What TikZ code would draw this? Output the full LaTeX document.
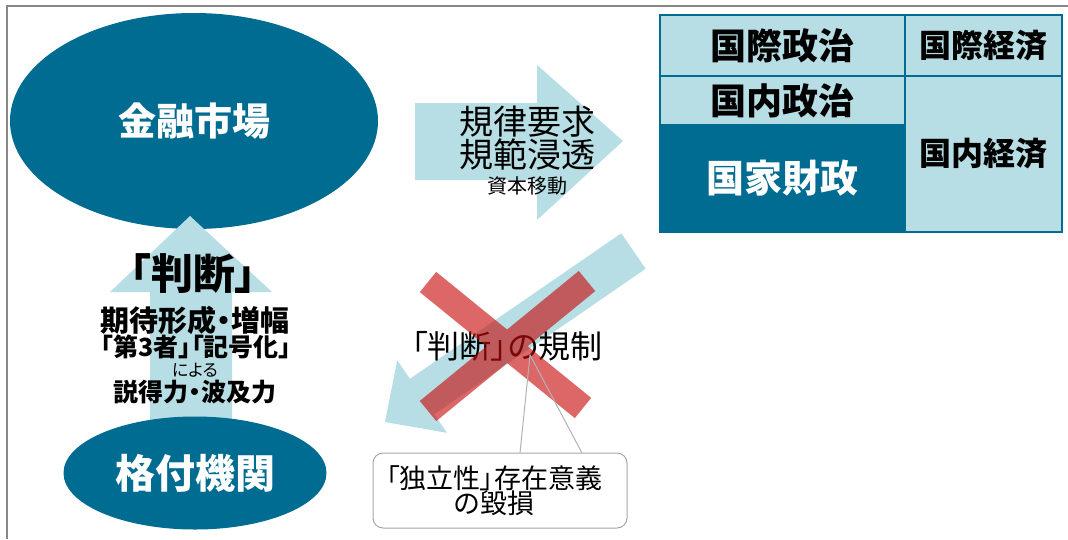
\documentclass[tikz,border=0pt]{standalone}
\usepackage{fontspec}
\newfontfamily\jp[RawFeature=+palt]{Noto Sans CJK JP}
\usetikzlibrary{shapes.geometric}
\definecolor{darkteal}{RGB}{0,108,145}
\definecolor{lightteal}{RGB}{183,222,228}
\definecolor{xred}{RGB}{200,10,10}
\definecolor{framegray}{RGB}{135,135,135}
\newcommand{\fs}[1]{\fontsize{#1}{#1}\selectfont}
\tikzset{
  oval/.style={ellipse, fill=darkteal, inner sep=0pt, text=white, font=\jp\bfseries\fs{38}},
  lbl/.style={inner sep=0pt, text=black, font=\jp},
  cell/.style={rectangle, inner sep=0pt, outer sep=0pt, draw=darkteal, line width=1.2pt, fill=lightteal, font=\jp\bfseries\fs{36}},
  darkcell/.style={cell, fill=darkteal, text=white},
  blockarrow/.style={fill=lightteal},
  xbar/.style={draw=xred, line width=26pt},
  callbox/.style={rectangle, rounded corners=10pt, draw=black!35, line width=1pt, fill=white, minimum width=254pt, minimum height=75pt},
}
\begin{document}
\begin{tikzpicture}[x=1pt, y=-1pt]
\useasboundingbox (0,0) rectangle (1068,539);
% frame
\draw[framegray, line width=2pt] (1068,6) -- (7,6) -- (7,539);
% top ellipse
\node[oval, minimum width=368pt, minimum height=216pt] (market) at (194,121) {金融市場};
% up arrow
\fill[blockarrow] (190,216) -- (272,292) -- (232,292) -- (232,440) -- (150,440) -- (150,292) -- (110,292) -- cycle;
% bottom ellipse
\node[oval, minimum width=263pt, minimum height=113pt, font=\jp\bfseries\fs{40}] (rating) at (195,473) {格付機関};
% left labels
\node[lbl, font=\jp\bfseries\fs{42}] (judge) at (193,274) {「判断」};
\node[lbl, font=\jp\bfseries\fs{29}] (expect) at (195,320) {期待形成・増幅};
\node[lbl, font=\jp\bfseries\fs{25}] (third) at (196,347) {「第3者」「記号化」};
\node[lbl, font=\jp\fs{17}] (niyoru) at (195,370) {による};
\node[lbl, font=\jp\bfseries\fs{25}] (persuade) at (195,392) {説得力・波及力};
% right arrow
\fill[blockarrow] (415,103) -- (537,103) -- (537,65) -- (623,141) -- (537,220) -- (537,180) -- (415,180) -- cycle;
\node[lbl, font=\jp\fs{34}] (rule1) at (527,122) {規律要求};
\node[lbl, font=\jp\fs{34}] (rule2) at (527,155) {規範浸透};
\node[lbl, font=\jp\fs{20}] (capital) at (527,186) {資本移動};
% table
\node[cell, minimum width=245pt, minimum height=61pt] (intpol) at (782.5,45.5) {国際政治};
\node[cell, minimum width=245pt, minimum height=49pt] (dompol) at (782.5,100.5) {国内政治};
\node[darkcell, minimum width=245pt, minimum height=107pt, font=\jp\bfseries\fs{38}] (fiscal) at (782.5,178.5) {国家財政};
\node[cell, minimum width=157pt, minimum height=61pt, font=\jp\bfseries\fs{32}] (intecon) at (983.5,45.5) {国際経済};
\node[cell, minimum width=157pt, minimum height=156pt, font=\jp\bfseries\fs{32}] (domecon) at (983.5,154) {国内経済};
% down-left arrow
\fill[blockarrow] (385,422) -- (397.2,360.2) -- (409.9,378.8) -- (621.3,233.3) -- (645.7,268.7) -- (434.3,414.2) -- (447,432.8) -- cycle;
% label under the cross
\node[lbl, font=\jp\fs{32}] (regul) at (507,346) {「判断」の規制};
% red cross (semi-transparent, drawn over the label)
\coordinate (x1a) at (428,282);
\coordinate (x1b) at (583,408);
\coordinate (x2a) at (428,411);
\coordinate (x2b) at (587,281);
\begin{scope}[transparency group, opacity=0.62]
\draw[xbar] (x1a) -- (x1b);
\draw[xbar] (x2a) -- (x2b);
\end{scope}
% callout
\node[callbox] (call) at (500,490.5) {};
\coordinate (ctip) at (530,355);
\draw[black!30, line width=1pt] (520,453) -- (ctip) -- (582,453);
\node[lbl, font=\jp\fs{27}] (indep) at (494,478) {「独立性」存在意義};
\node[lbl, font=\jp\fs{27}] (damage) at (494,503) {の毀損};
\end{tikzpicture}
\end{document}
